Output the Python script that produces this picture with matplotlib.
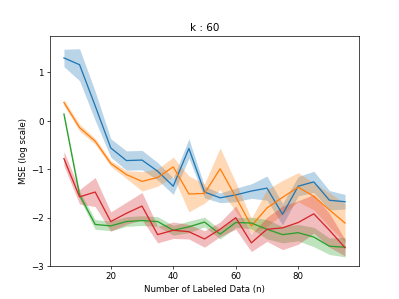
import numpy as np
import matplotlib
matplotlib.use("Agg")
import matplotlib.pyplot as plt

# number of labeled samples
n = [5, 10, 15, 20, 25, 30, 35, 40, 45, 50, 55, 60, 65, 70, 75, 80, 85, 90, 95]

# mean log-MSE per method, and spread (std) for the shaded band
blue_mean = [1.30, 1.16, 0.31, -0.56, -0.82, -0.81, -1.04, -1.35, -0.57, -1.47, -1.59, -1.53, -1.45, -1.39, -1.93, -1.35, -1.26, -1.64, -1.67]
blue_std = [0.18, 0.33, 0.30, 0.19, 0.20, 0.20, 0.18, 0.17, 0.20, 0.12, 0.10, 0.14, 0.15, 0.25, 0.22, 0.20, 0.22, 0.20, 0.15]

orange_mean = [0.38, -0.14, -0.42, -0.88, -1.11, -1.25, -1.17, -0.95, -1.51, -1.50, -0.99, -1.57, -2.17, -1.80, -1.58, -1.37, -1.56, -1.84, -2.11]
orange_std = [0.06, 0.07, 0.06, 0.06, 0.08, 0.20, 0.18, 0.20, 0.37, 0.20, 0.43, 0.30, 0.15, 0.38, 0.35, 0.30, 0.28, 0.35, 0.40]

green_mean = [0.14, -1.53, -2.14, -2.17, -2.08, -2.06, -2.08, -2.26, -2.19, -2.09, -2.34, -2.10, -2.11, -2.24, -2.35, -2.31, -2.40, -2.59, -2.61]
green_std = [0.05, 0.08, 0.10, 0.10, 0.10, 0.10, 0.10, 0.10, 0.12, 0.10, 0.10, 0.10, 0.12, 0.20, 0.17, 0.17, 0.20, 0.17, 0.20]

red_mean = [-0.78, -1.57, -1.47, -2.08, -1.91, -1.76, -2.35, -2.26, -2.29, -2.44, -2.24, -2.00, -2.52, -2.24, -2.21, -2.10, -1.92, -2.26, -2.62]
red_std = [0.15, 0.15, 0.30, 0.20, 0.23, 0.28, 0.17, 0.17, 0.15, 0.17, 0.15, 0.24, 0.18, 0.25, 0.45, 0.45, 0.40, 0.35, 0.17]

series = [
    (blue_mean, blue_std, "tab:blue"),
    (orange_mean, orange_std, "tab:orange"),
    (green_mean, green_std, "tab:green"),
    (red_mean, red_std, "tab:red"),
]

fig = plt.figure(figsize=(6.4, 4.8), dpi=399 / 6.4)
ax = fig.add_subplot(111)

for mean, std, col in series:
    m = np.array(mean)
    s = np.array(std)
    ax.plot(n, m, color=col)
    ax.fill_between(n, m - s, m + s, color=col, alpha=0.3, linewidth=0)

ax.set_ylim(-3.0, 1.76)
ax.set_title("k : 60")
ax.set_xlabel("Number of Labeled Data (n)")
ax.set_ylabel("MSE (log scale)")

fig.savefig("out.png", dpi=399 / 6.4)
